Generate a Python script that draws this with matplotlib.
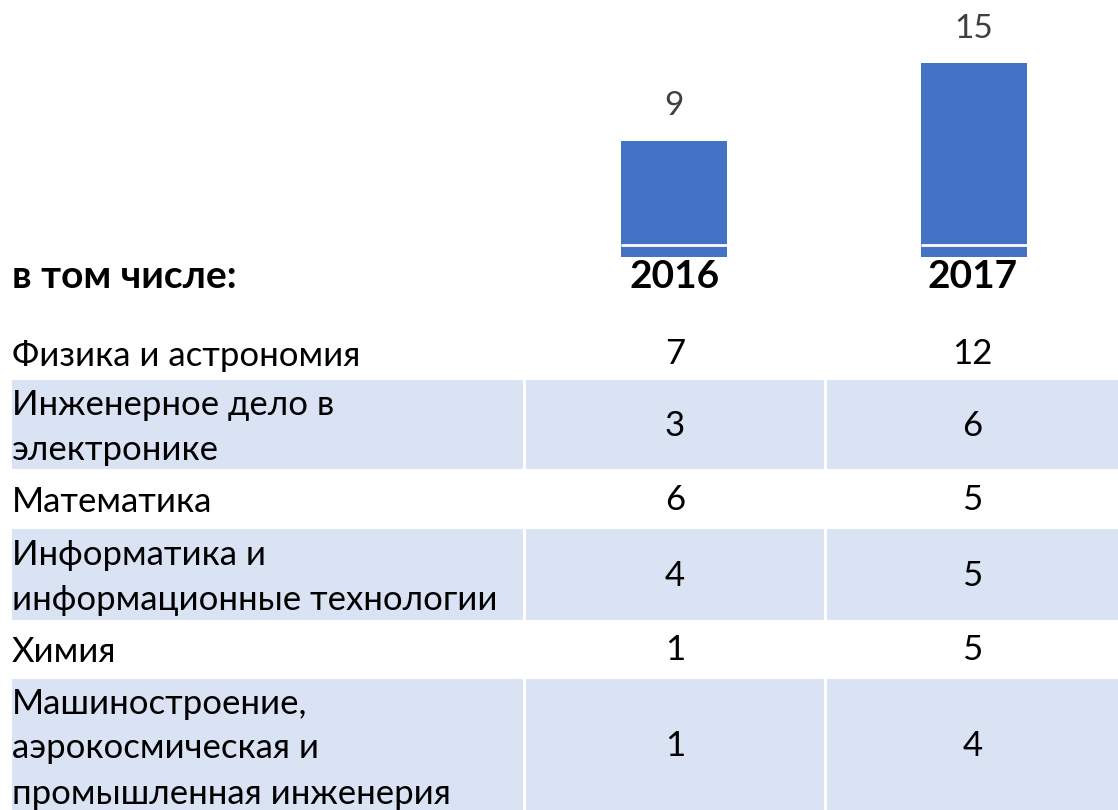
import matplotlib
matplotlib.use("Agg")
from matplotlib import pyplot as plt
from matplotlib.patches import Rectangle

plt.rcParams['font.family'] = ['Lato', 'DejaVu Sans']

years = ["2016", "2017"]
totals = [9, 15]
base_part = [0.9, 0.9]  # the thin white stripe near the bottom of each bar

subjects = [
    "Физика и астрономия",
    "Инженерное дело в\nэлектронике",
    "Математика",
    "Информатика и\nинформационные технологии",
    "Химия",
    "Машиностроение,\nаэрокосмическая и\nпромышленная инженерия",
]
vals_2016 = [7, 3, 6, 4, 1, 1]
vals_2017 = [12, 6, 5, 5, 5, 4]

W, H = 1118, 810
fig = plt.figure(figsize=(W / 100, H / 100), dpi=100)

# bar axes: columns 2 and 3, bottom of bars at y=257 px
ax = fig.add_axes([524 / W, (H - 257) / H, 600 / W, 257 / H])
blue = "#4472C4"
x = range(len(years))
ax.bar(x, totals, width=0.353, color=blue)
ax.hlines(base_part, [i - 0.353 / 2 for i in x], [i + 0.353 / 2 for i in x],
          colors="white", linewidth=2)
for i, v in enumerate(totals):
    ax.annotate(str(v), (i, v), xytext=(0, 14), textcoords="offset points",
                ha="center", va="bottom", fontsize=24, color="#404040")
ax.set_xlim(-0.5, 1.5)
ax.set_ylim(0, 19.9)
ax.axis("off")

# table area in pixel coordinates
tb = fig.add_axes([0, 0, 1, 1])
tb.set_xlim(0, W)
tb.set_ylim(H, 0)
tb.axis("off")
tb.set_zorder(-1)

tb.text(12, 277, "в том числе:", fontsize=28, fontweight="bold", ha="left", va="center")
col_x = [(12, 523), (526, 824), (827, 1118)]
for j, yr in enumerate(years):
    cx = (col_x[j + 1][0] + col_x[j + 1][1]) / 2
    tb.text(cx, 277, yr, fontsize=28, fontweight="bold", ha="center", va="center")

row_top = [328, 380, 470, 529, 621, 679]
row_bot = [378, 469, 528, 620, 677, 812]
shade = "#DAE3F3"
for i, name in enumerate(subjects):
    y0, y1 = row_top[i], row_bot[i]
    if i % 2 == 1:
        for c0, c1 in col_x:
            tb.add_patch(Rectangle((c0, y0), c1 - c0, y1 - y0, color=shade, lw=0))
    yc = (y0 + y1) / 2
    tb.text(12, yc + 3, name, fontsize=25, ha="left", va="center", linespacing=1.5)
    for j, v in enumerate([vals_2016[i], vals_2017[i]]):
        cx = (col_x[j + 1][0] + col_x[j + 1][1]) / 2
        tb.text(cx, yc + 1, str(v), fontsize=25, ha="center", va="center")

fig.savefig("out.png", dpi=100)
